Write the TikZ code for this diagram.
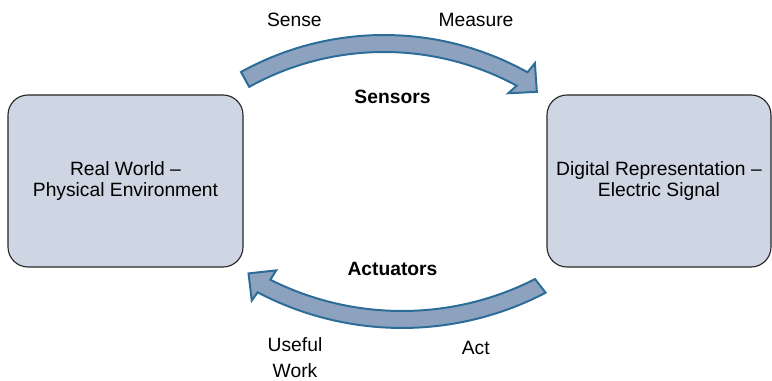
\documentclass[tikz,border=0pt]{standalone}
\usepackage{fontspec}
\setmainfont{Liberation Sans}
\usepackage{tikz}
\definecolor{boxfill}{HTML}{CED6E3}
\definecolor{arrowfill}{HTML}{8CA2BE}
\definecolor{arrowline}{HTML}{2B6C98}

\begin{document}
\begin{tikzpicture}[
  box/.style={draw=black!85, line width=0.8pt, fill=boxfill, rounded corners=0.5cm, inner sep=0pt, align=center, font=\fontsize{13.7}{15.4}\selectfont},
  blockarrow/.style={draw=arrowline, fill=arrowfill, line width=1.4pt},
  lbl/.style={inner sep=0pt, align=center, font=\fontsize{13.7}{18.5}\selectfont},
  boldlbl/.style={lbl, font=\fontsize{13.7}{18.5}\selectfont\bfseries}
]
\useasboundingbox (0,0) rectangle (19.3,9.525);

\node [box, minimum width=5.875cm, minimum height=4.3cm] (world) at (3.1375,5) {Real World --\\Physical Environment};
\node [box, minimum width=5.6cm, minimum height=4.3cm] (digital) at (16.475,5) {Digital Representation --\\Electric Signal};

% sensors arrow
\begin{scope}[shift={(9.6,1.275)}]
\draw [blockarrow] (119:7.375) arc[start angle=119, end angle=60.9, radius=7.375] -- (60.5:7.6625) -- (57.3:7.075) -- (62.3:6.685) -- (61.5:6.95) arc[start angle=61.5, end angle=119, radius=6.95] -- cycle;
\end{scope}

% actuators arrow
\begin{scope}[shift={(10.05,9.075)}]
\draw [blockarrow] (-62.4:7.75) arc[start angle=-62.4, end angle=-117.75, radius=7.75] -- (-118:8.0) -- (-121:7.45) -- (-116.5:7.05) -- (-116.7:7.325) arc[start angle=-116.7, end angle=-63, radius=7.325] -- cycle;
\end{scope}

\node [lbl, anchor=base] (sense) at (7.36,8.86) {Sense};
\node [lbl, anchor=base] (measure) at (11.9,8.86) {Measure};
\node [boldlbl, anchor=base] (sensors) at (9.8125,6.9425) {Sensors};
\node [boldlbl, anchor=base] (actuators) at (9.8125,2.6325) {Actuators};
\node [lbl] (useful) at (7.375,0.58) {Useful\\Work};
\node [lbl, anchor=base] (act) at (11.895,0.65) {Act};
\end{tikzpicture}
\end{document}
